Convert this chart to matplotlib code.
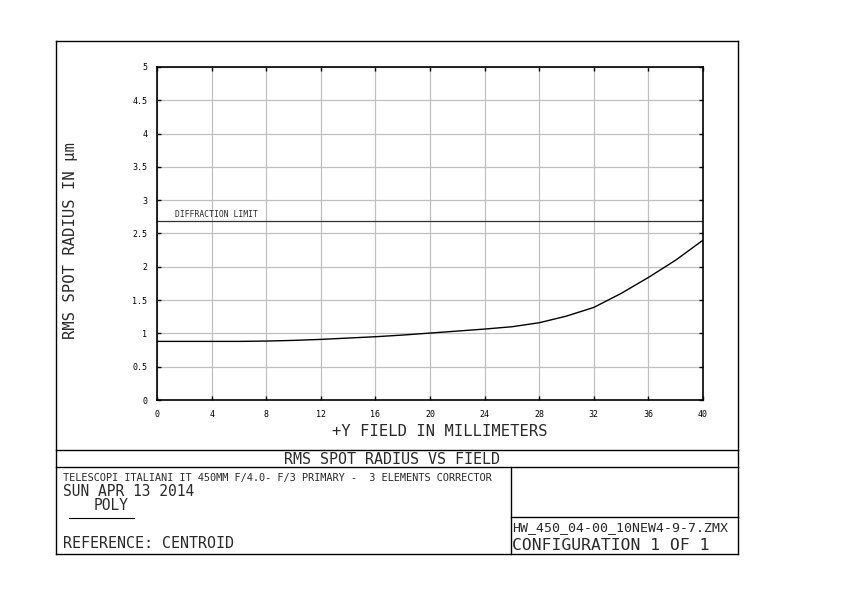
# -*- coding: utf-8 -*-
"""
RMS spot radius vs field (Zemax style plot)
"""
import matplotlib
matplotlib.use('Agg')
import matplotlib.pyplot as plt
from matplotlib.lines import Line2D

field = [0, 2, 4, 6, 8, 10, 12, 14, 16, 18, 20, 22, 24, 26, 28, 30, 32, 34, 36, 38, 40]
rms = [0.88, 0.88, 0.88, 0.88, 0.885, 0.895, 0.91, 0.93, 0.95, 0.975, 1.005,
       1.035, 1.065, 1.10, 1.16, 1.26, 1.39, 1.60, 1.84, 2.10, 2.40]
diff_limit = 2.69

xticks = [0, 4, 8, 12, 16, 20, 24, 28, 32, 36, 40]
yticks = [0, 0.5, 1, 1.5, 2, 2.5, 3, 3.5, 4, 4.5, 5]
ytick_labels = ['0', '0.5', '1', '1.5', '2', '2.5', '3', '3.5', '4', '4.5', '5']

W, H = 842, 595
plt.rcParams['font.family'] = ['DejaVu Sans Mono', 'DejaVu Sans']
TXT = '#2a2a2a'

fig = plt.figure(figsize=(W / 100, H / 100), dpi=100)
fig.patch.set_facecolor('white')

def fx(px):
    return px / W

def fy(py):
    return 1 - py / H

# axes
ax = fig.add_axes([fx(157), fy(400), fx(703) - fx(157), fy(67) - fy(400)])
ax.plot(field, rms, color='black', lw=1.0)
ax.axhline(diff_limit, color='#333333', lw=0.9)
ax.text(1.3, diff_limit + 0.06, 'DIFFRACTION LIMIT', fontsize=5.8, color=TXT)

ax.set_xlim(0, 40)
ax.set_ylim(0, 5)
ax.set_xticks(xticks)
ax.set_yticks(yticks)
ax.set_xticklabels([str(t) for t in xticks], fontsize=6)
ax.set_yticklabels(ytick_labels, fontsize=6)
ax.grid(True, color='#c0c0c0', lw=0.9)
ax.tick_params(direction='in', length=3, width=1, top=True, right=True,
               pad=7, color='black')
for s in ax.spines.values():
    s.set_linewidth(1.2)

# axis labels
fig.text(fx(70), fy(241), 'RMS SPOT RADIUS IN \u00b5m', rotation=90,
         ha='center', va='center', fontsize=11.2, color=TXT)
fig.text(fx(440), fy(431), '+Y FIELD IN MILLIMETERS', ha='center', va='center',
         fontsize=11.2, color=TXT)

# frames
def hline(x0, x1, y, lw=1.0):
    fig.add_artist(Line2D([fx(x0), fx(x1)], [fy(y), fy(y)], color='black', lw=lw))

def vline(x, y0, y1, lw=1.0):
    fig.add_artist(Line2D([fx(x), fx(x)], [fy(y0), fy(y1)], color='black', lw=lw))

hline(56, 738, 41)
hline(56, 738, 554)
vline(56, 41, 554)
vline(738, 41, 554)
hline(56, 738, 450)
hline(56, 738, 467)
vline(511, 467, 554)
hline(511, 738, 517)
hline(69, 134, 518, lw=0.8)

# title block text
fig.text(fx(392), fy(459), 'RMS SPOT RADIUS VS FIELD', ha='center', va='center',
         fontsize=10.8, color=TXT)
fig.text(fx(63), fy(478), 'TELESCOPI ITALIANI IT 450MM F/4.0- F/3 PRIMARY -  3 ELEMENTS CORRECTOR',
         ha='left', va='center', fontsize=7.4, color=TXT)
fig.text(fx(63), fy(491), 'SUN APR 13 2014', ha='left', va='center', fontsize=10.5,
         color=TXT)
fig.text(fx(94), fy(505), 'POLY', ha='left', va='center', fontsize=10.5, color=TXT)
fig.text(fx(63), fy(543), 'REFERENCE: CENTROID', ha='left', va='center', fontsize=10.8,
         color=TXT)
fig.text(fx(512), fy(528), 'HW_450_04-00_10NEW4-9-7.ZMX', ha='left', va='center',
         fontsize=9.5, color=TXT)
fig.text(fx(512), fy(545), 'CONFIGURATION 1 OF 1', ha='left', va='center',
         fontsize=11.8, color=TXT)

fig.savefig('out.png', dpi=100)
